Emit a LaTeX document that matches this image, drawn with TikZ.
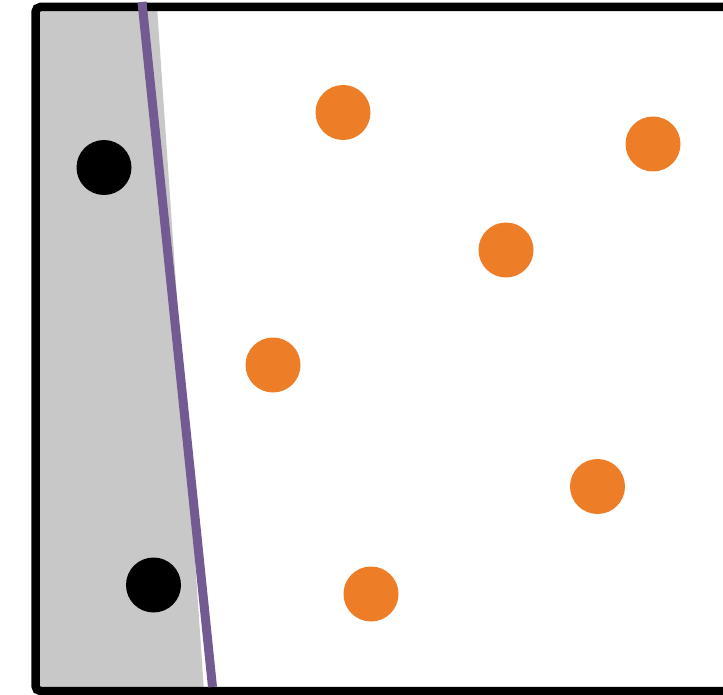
\documentclass[tikz,border=0pt]{standalone}
\definecolor{dotorange}{HTML}{ED7D27}
\definecolor{linepurple}{HTML}{735A93}
\definecolor{regiongray}{HTML}{C8C8C8}
\begin{document}
\begin{tikzpicture}[x=1pt,y=-1pt,
  blackdot/.style={circle,fill=black,minimum size=55pt,inner sep=0pt},
  orangedot/.style={circle,fill=dotorange,minimum size=55pt,inner sep=0pt}]
\useasboundingbox (0,0) rectangle (723,695);
% gray region
\fill[regiongray] (36,7) -- (157,7) -- (204,691) -- (36,691) -- cycle;
% frame
\draw[line width=8.5pt,rounded corners=5pt] (740,7) -- (35.5,7) -- (35.5,691) -- (740,691);
% separating line
\coordinate (ltop) at (142,2);
\coordinate (lbot) at (212.5,687);
\draw[linepurple,line width=9pt] (ltop) -- (lbot);
% dots
\node[blackdot] (b1) at (104,167.5) {};
\node[blackdot] (b2) at (153.5,585) {};
\node[orangedot] (o1) at (343,112.5) {};
\node[orangedot] (o2) at (653,144) {};
\node[orangedot] (o3) at (506,250) {};
\node[orangedot] (o4) at (273,365) {};
\node[orangedot] (o5) at (597.5,486.5) {};
\node[orangedot] (o6) at (371,594) {};
\end{tikzpicture}
\end{document}
